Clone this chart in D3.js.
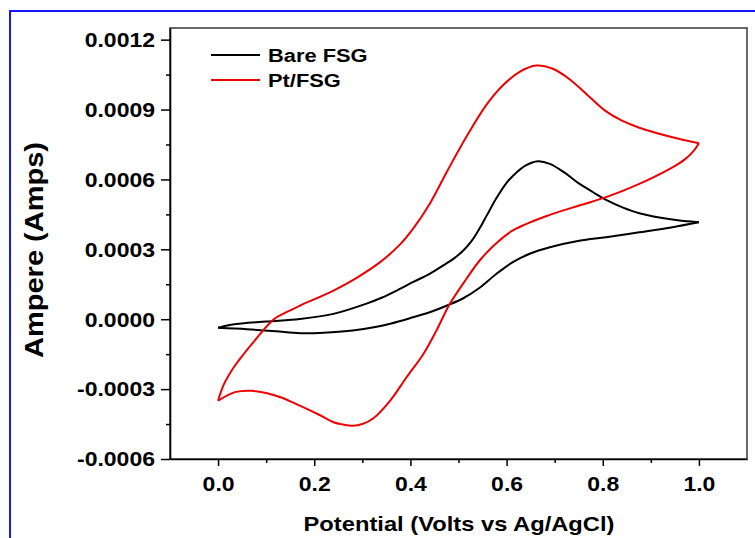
<!DOCTYPE html>
<html>
<head>
<meta charset="utf-8">
<script src="https://cdn.jsdelivr.net/npm/d3@7"></script>
<style>
	body { margin: 0; background: #fff; }
	svg { display: block; }
	text { font-family: Arial, "Liberation Sans", sans-serif; font-weight: bold; fill: #000; }
</style>
</head>
<body>
<div id="chart"></div>
<script>
// potential (V vs Ag/AgCl), current (A) - forward and reverse sweeps
var bareForward = [
	[0.0, -3.7e-5], [0.03, -2.3e-5], [0.1, -1.0e-5], [0.17, 1e-6], [0.24, 2.3e-5],
	[0.31, 6.8e-5], [0.34, 9.2e-5], [0.378, 1.3e-4], [0.406, 1.6e-4], [0.44, 1.95e-4],
	[0.475, 2.4e-4], [0.49, 2.6e-4], [0.51, 2.95e-4], [0.527, 3.35e-4], [0.544, 3.9e-4],
	[0.56, 4.5e-4], [0.579, 5.2e-4], [0.6, 5.85e-4], [0.613, 6.15e-4], [0.64, 6.6e-4],
	[0.665, 6.78e-4], [0.69, 6.67e-4], [0.72, 6.3e-4], [0.751, 5.82e-4], [0.78, 5.45e-4],
	[0.807, 5.12e-4], [0.841, 4.8e-4], [0.876, 4.55e-4], [0.945, 4.28e-4], [1.0, 4.16e-4]
];
var bareReverse = [
	[1.0, 4.16e-4], [0.945, 3.95e-4], [0.876, 3.73e-4], [0.807, 3.52e-4], [0.751, 3.37e-4],
	[0.69, 3.09e-4], [0.648, 2.81e-4], [0.613, 2.45e-4], [0.579, 1.95e-4], [0.544, 1.35e-4],
	[0.51, 9.0e-5], [0.475, 5.8e-5], [0.44, 3.0e-5], [0.4, 5e-6], [0.36, -1.8e-5],
	[0.327, -3.3e-5], [0.28, -4.8e-5], [0.22, -5.8e-5], [0.171, -6.0e-5], [0.12, -5.2e-5],
	[0.06, -4.3e-5], [0.0, -3.7e-5]
];
var ptForward = [
	[0.0, -3.5e-4], [0.012, -2.8e-4], [0.033, -2.05e-4], [0.055, -1.45e-4], [0.075, -9.5e-5],
	[0.095, -4.5e-5], [0.116, 0], [0.14, 2.8e-5], [0.171, 5.9e-5], [0.24, 1.23e-4],
	[0.29, 1.8e-4], [0.337, 2.45e-4], [0.378, 3.2e-4], [0.406, 3.9e-4], [0.44, 4.95e-4],
	[0.475, 6.3e-4], [0.517, 7.85e-4], [0.558, 9.2e-4], [0.593, 1.005e-3], [0.627, 1.062e-3],
	[0.662, 1.089e-3], [0.696, 1.075e-3], [0.731, 1.03e-3], [0.772, 9.55e-4], [0.807, 8.92e-4],
	[0.84, 8.52e-4], [0.876, 8.22e-4], [0.945, 7.81e-4], [1.0, 7.55e-4]
];
var ptReverse = [
	[1.0, 7.55e-4], [0.99, 7.25e-4], [0.97, 6.85e-4], [0.945, 6.52e-4], [0.876, 5.81e-4],
	[0.807, 5.24e-4], [0.751, 4.88e-4], [0.682, 4.42e-4], [0.613, 3.81e-4], [0.578, 3.25e-4],
	[0.544, 2.52e-4], [0.517, 1.75e-4], [0.482, 6.6e-5], [0.454, -4.9e-5], [0.427, -1.49e-4],
	[0.392, -2.49e-4], [0.358, -3.49e-4], [0.323, -4.25e-4], [0.3, -4.5e-4], [0.28, -4.57e-4],
	[0.26, -4.52e-4], [0.24, -4.42e-4], [0.21, -4.1e-4], [0.171, -3.72e-4], [0.13, -3.35e-4],
	[0.1, -3.17e-4], [0.07, -3.07e-4], [0.035, -3.13e-4], [0.0, -3.5e-4]
];

var seriesNames = ['Bare FSG', 'Pt/FSG'];
var seriesColors = ['#000000', '#ee0000'];

var xTicks = [0.0, 0.2, 0.4, 0.6, 0.8, 1.0];
var xMinorTicks = [0.1, 0.3, 0.5, 0.7, 0.9];
var yTicks = [-0.0006, -0.0003, 0.0, 0.0003, 0.0006, 0.0009, 0.0012];
var yMinorTicks = [-0.00045, -0.00015, 0.00015, 0.00045, 0.00075, 0.00105];

var W = 755, H = 538;
var padding = { top: 28, right: 8, bottom: 79, left: 170 };
var width = W - padding.left - padding.right;
var height = H - padding.top - padding.bottom;

var svg = d3.select('#chart').append('svg')
	.attr('width', W)
	.attr('height', H);

// blue figure border
svg.append('rect')
	.attr('x', 10).attr('y', 11)
	.attr('width', W + 20).attr('height', H + 20)
	.attr('fill', 'none')
	.attr('stroke', '#1515ff')
	.attr('stroke-width', 2);

var g = svg.append('g')
	.attr('transform', 'translate(' + padding.left + ',' + padding.top + ')');

var x = d3.scaleLinear().domain([-0.1, 1.1]).range([0, width]);
var y = d3.scaleLinear().domain([-0.0006, 0.00125]).range([height, 0]);

// frame
g.append('rect')
	.attr('width', width).attr('height', height)
	.attr('fill', 'none')
	.attr('stroke', '#444')
	.attr('stroke-width', 1.6);

// minor ticks
g.append('g')
	.attr('transform', 'translate(0,' + height + ')')
	.call(d3.axisBottom(x).tickValues(xMinorTicks).tickSize(4).tickSizeOuter(0).tickFormat(''))
	.call(function (a) { a.select('.domain').remove(); a.selectAll('line').attr('stroke-width', 1.5); });
g.append('g')
	.call(d3.axisLeft(y).tickValues(yMinorTicks).tickSize(4).tickSizeOuter(0).tickFormat(''))
	.call(function (a) { a.select('.domain').remove(); a.selectAll('line').attr('stroke-width', 1.5); });

// major axes
var xAxis = g.append('g')
	.attr('transform', 'translate(0,' + height + ')')
	.call(d3.axisBottom(x).tickValues(xTicks).tickSize(7).tickSizeOuter(0)
		.tickFormat(function (d) { return d.toFixed(1); }));
var yAxis = g.append('g')
	.call(d3.axisLeft(y).tickValues(yTicks).tickSize(9).tickSizeOuter(0)
		.tickFormat(function (d) { return d.toFixed(4); }));

[xAxis, yAxis].forEach(function (a) {
	a.select('.domain').attr('stroke-width', 1.6);
	a.selectAll('line').attr('stroke-width', 1.5);
	a.selectAll('text')
		.attr('font-size', 19.5)
		.attr('font-family', null)
		.attr('fill', '#000');
});
xAxis.selectAll('text').attr('y', 0).attr('dy', 0)
	.attr('transform', 'translate(0,32) scale(1.18,1)');
yAxis.selectAll('text').attr('x', 0).attr('dy', '0.35em')
	.attr('transform', 'translate(-15,0) scale(1.18,1)');

// curves
var line = d3.line()
	.x(function (d) { return x(d[0]); })
	.y(function (d) { return y(d[1]); })
	.curve(d3.curveCatmullRom.alpha(0.5));

[[bareForward, bareReverse], [ptForward, ptReverse]].forEach(function (sweeps, i) {
	sweeps.forEach(function (pts) {
		g.append('path')
			.datum(pts)
			.attr('fill', 'none')
			.attr('stroke', seriesColors[i])
			.attr('stroke-width', 2)
			.attr('stroke-linejoin', 'round')
			.attr('d', line);
	});
});

// legend
var legend = svg.append('g').attr('transform', 'translate(211,55)');
seriesNames.forEach(function (name, i) {
	var row = legend.append('g').attr('transform', 'translate(0,' + (i * 25) + ')');
	row.append('line')
		.attr('x1', 0).attr('x2', 49)
		.attr('stroke', seriesColors[i])
		.attr('stroke-width', 2);
	row.append('text')
		.attr('transform', 'translate(57,7) scale(1.15,1)')
		.attr('font-size', 19)
		.text(name);
});

// axis titles
svg.append('text')
	.attr('transform', 'translate(459,531) scale(1.13,1)')
	.attr('text-anchor', 'middle')
	.attr('font-size', 21)
	.text('Potential (Volts vs Ag/AgCl)');

svg.append('text')
	.attr('transform', 'translate(43,250) rotate(-90) scale(1.16,1)')
	.attr('text-anchor', 'middle')
	.attr('font-size', 25)
	.text('Ampere (Amps)');
</script>
</body>
</html>
